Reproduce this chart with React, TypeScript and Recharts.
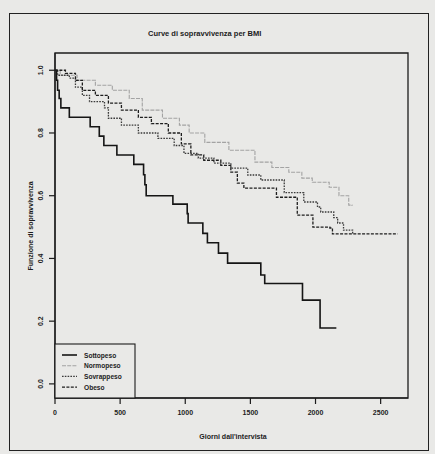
import React from "react";
import { LineChart, Line, XAxis, YAxis, ReferenceArea } from "recharts";

// Kaplan-Meier steps (day, survival)
const sottopesoDays = [0, 12, 20, 32, 45, 110, 270, 340, 375, 475, 605, 680, 690, 700, 905, 1015, 1022, 1135, 1170, 1255, 1325, 1580, 1610, 1900, 2035, 2160];
const sottopesoSurv = [1.0, 0.968, 0.936, 0.91, 0.88, 0.85, 0.82, 0.79, 0.76, 0.73, 0.7, 0.667, 0.635, 0.6, 0.573, 0.543, 0.513, 0.48, 0.45, 0.417, 0.385, 0.347, 0.32, 0.267, 0.178, 0.178];

const normopesoDays = [0, 40, 170, 310, 440, 570, 670, 825, 955, 1030, 1150, 1335, 1535, 1665, 1795, 1895, 1975, 2105, 2180, 2255, 2280];
const normopesoSurv = [1.0, 0.984, 0.968, 0.952, 0.936, 0.91, 0.873, 0.847, 0.825, 0.8, 0.77, 0.745, 0.707, 0.69, 0.675, 0.656, 0.643, 0.627, 0.6, 0.57, 0.567];

const sovrappesoDays = [0, 20, 110, 157, 210, 265, 380, 410, 510, 640, 790, 915, 990, 1100, 1220, 1350, 1480, 1580, 1760, 1910, 2015, 2040, 2140, 2170, 2215, 2285];
const sovrappesoSurv = [1.0, 0.984, 0.975, 0.946, 0.92, 0.9, 0.88, 0.847, 0.825, 0.8, 0.783, 0.76, 0.735, 0.72, 0.704, 0.688, 0.666, 0.65, 0.61, 0.58, 0.564, 0.548, 0.53, 0.513, 0.49, 0.478];

const obesoDays = [0, 80, 157, 210, 310, 410, 510, 640, 740, 870, 970, 1043, 1142, 1273, 1350, 1400, 1450, 1700, 1860, 1980, 2110, 2130, 2630];
const obesoSurv = [1.0, 0.99, 0.968, 0.936, 0.92, 0.895, 0.873, 0.85, 0.83, 0.8, 0.765, 0.73, 0.713, 0.697, 0.675, 0.64, 0.624, 0.595, 0.538, 0.5, 0.497, 0.478, 0.478];

const xTicks = [0, 500, 1000, 1500, 2000, 2500];
const yTicks = [0, 0.2, 0.4, 0.6, 0.8, 1.0];

const toPoints = (days: number[], surv: number[]) =>
  days.map((day, i) => ({ day, surv: surv[i] }));

const series = [
  { name: "Sottopeso", data: toPoints(sottopesoDays, sottopesoSurv), stroke: "#151515", width: 1.6, dash: undefined },
  { name: "Normopeso", data: toPoints(normopesoDays, normopesoSurv), stroke: "#a3a3a3", width: 1.1, dash: "4 1.2" },
  { name: "Sovrappeso", data: toPoints(sovrappesoDays, sovrappesoSurv), stroke: "#3a3a3a", width: 1.3, dash: "1.6 1.2" },
  { name: "Obeso", data: toPoints(obesoDays, obesoSurv), stroke: "#1e1e1e", width: 1.3, dash: "3 1.4" },
];

const FONT = "'Liberation Sans', Arial, sans-serif";
const INK = "#1c1c1c";

const YTick = ({ x, y, payload }: any) => (
  <text
    x={x - 4}
    y={y}
    transform={`rotate(-90 ${x - 4} ${y})`}
    textAnchor="middle"
    fontFamily={FONT}
    fontSize={7}
    fontWeight="bold"
    fill={INK}
  >
    {payload.value.toFixed(1)}
  </text>
);

export default function App() {
  return (
    <div style={{ position: "relative", width: 435, height: 454, background: "#e9e9e7", overflow: "hidden" }}>
      <style>{`body{margin:0}`}</style>
      <div
        style={{
          position: "absolute",
          left: 9,
          top: 13,
          width: 418,
          height: 436,
          border: "1.3px solid #222",
        }}
      />
      <LineChart
        width={435}
        height={454}
        margin={{ top: 53, right: 27, bottom: 0, left: 0 }}
        style={{ position: "absolute", left: 0, top: 0 }}
      >
        <XAxis
          dataKey="day"
          type="number"
          domain={[0, 2710]}
          ticks={xTicks}
          allowDataOverflow
          height={56}
          tickSize={6}
          tickMargin={6}
          axisLine={{ stroke: INK, strokeWidth: 1.2 }}
          tickLine={{ stroke: INK, strokeWidth: 1.2 }}
          tick={{ fontFamily: FONT, fontSize: 7, fontWeight: "bold", fill: INK }}
        />
        <YAxis
          type="number"
          domain={[-0.045, 1.055]}
          ticks={yTicks}
          allowDataOverflow
          width={55}
          tickSize={6}
          tickMargin={2}
          axisLine={{ stroke: INK, strokeWidth: 1.2 }}
          tickLine={{ stroke: INK, strokeWidth: 1.2 }}
          tick={<YTick />}
        />
        <ReferenceArea
          x1={0}
          x2={2710}
          y1={-0.045}
          y2={1.055}
          fill="none"
          fillOpacity={0}
          stroke={INK}
          strokeWidth={1.3}
        />
        {series.map((s) => (
          <Line
            key={s.name}
            data={s.data}
            dataKey="surv"
            name={s.name}
            type="stepAfter"
            stroke={s.stroke}
            strokeWidth={s.width}
            strokeDasharray={s.dash}
            dot={false}
            isAnimationActive={false}
          />
        ))}
      </LineChart>
      <svg width={435} height={454} style={{ position: "absolute", left: 0, top: 0, pointerEvents: "none" }}>
        <text x={148} y={36} fontFamily={FONT} fontSize={7.5} fontWeight="bold" fill={INK}>
          Curve di sopravvivenza per BMI
        </text>
        <text x={233} y={439} textAnchor="middle" fontFamily={FONT} fontSize={7} fontWeight="bold" fill={INK}>
          Giorni dall'intervista
        </text>
        <text
          x={33}
          y={226}
          transform="rotate(-90 33 226)"
          textAnchor="middle"
          fontFamily={FONT}
          fontSize={7}
          fontWeight="bold"
          fill={INK}
        >
          Funzione di sopravvivenza
        </text>
        <g transform="translate(55 344)">
          <rect x={0} y={0} width={80} height={54} fill="#e9e9e7" stroke={INK} strokeWidth={1.1} />
          {series.map((s, i) => (
            <g key={s.name}>
              <line
                x1={7}
                x2={22}
                y1={11 + i * 10.7}
                y2={11 + i * 10.7}
                stroke={s.stroke}
                strokeWidth={s.width}
                strokeDasharray={s.dash}
              />
              <text x={29} y={13.5 + i * 10.7} fontFamily={FONT} fontSize={6.6} fontWeight="bold" fill={INK}>
                {s.name}
              </text>
            </g>
          ))}
        </g>
      </svg>
    </div>
  );
}
